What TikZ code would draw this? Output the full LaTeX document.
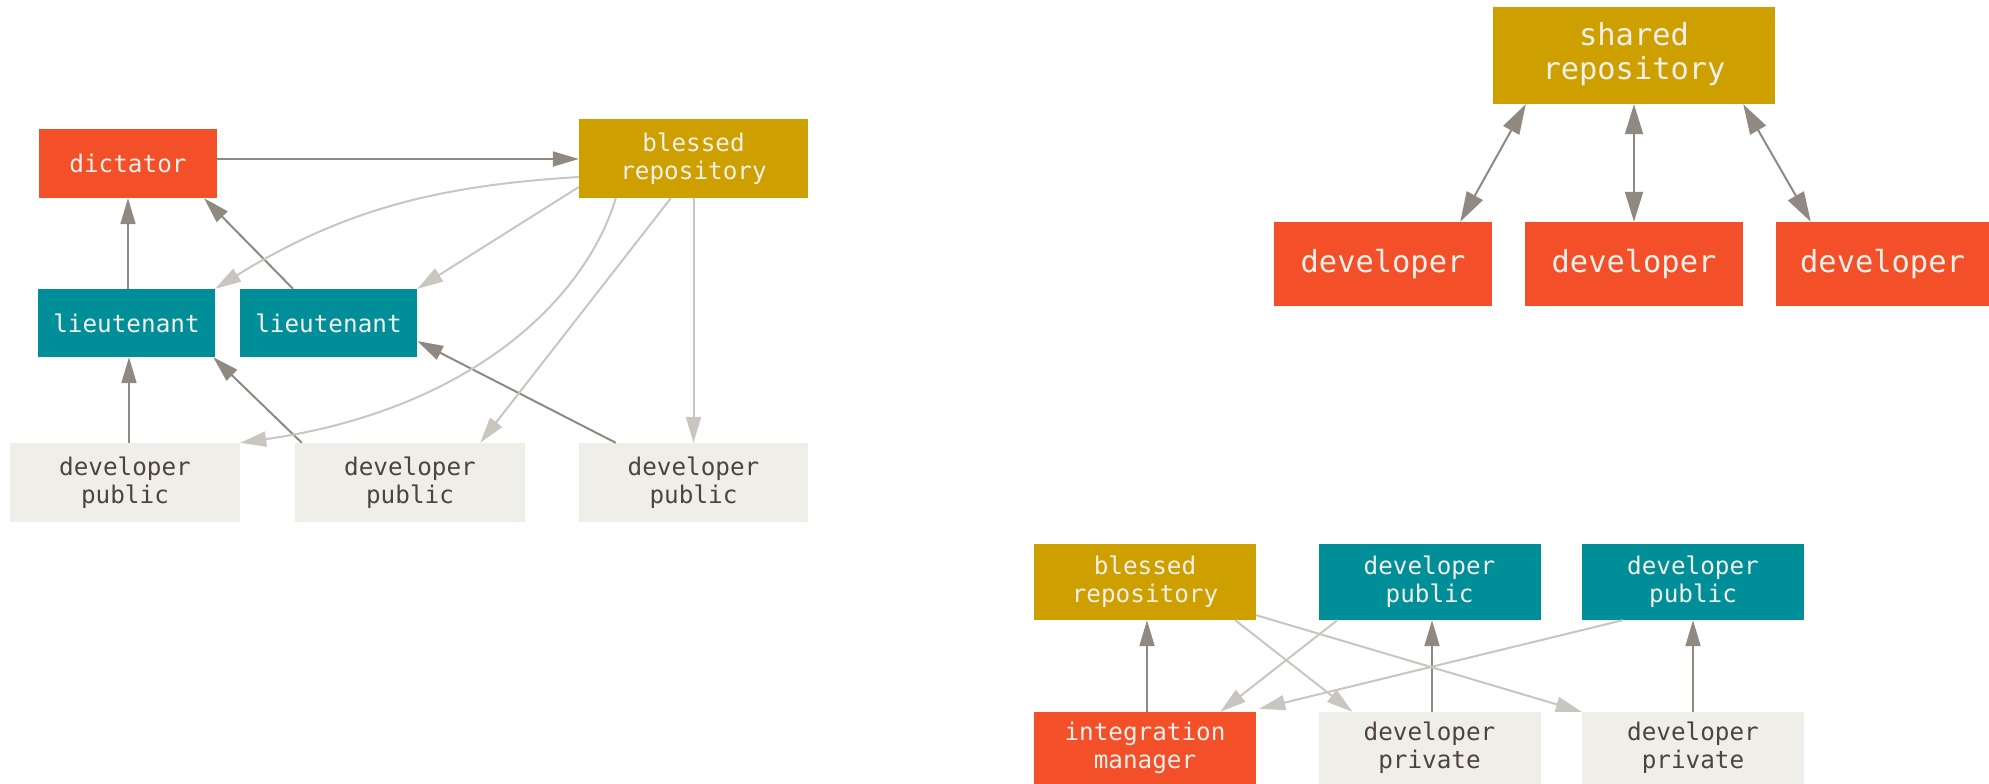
\documentclass[tikz,border=0pt]{standalone}
\usepackage{fontspec}
\setmonofont{DejaVu Sans Mono}
\usetikzlibrary{arrows.meta}

\definecolor{gitred}{HTML}{F34F29}
\definecolor{gitgold}{HTML}{CDA000}
\definecolor{gitteal}{HTML}{008F99}
\definecolor{gitpaper}{HTML}{EFEEE8}
\definecolor{gitink}{HTML}{4E443C}
\definecolor{gitwhite}{HTML}{F2F0EA}
\definecolor{darkline}{HTML}{8F8981}
\definecolor{lightline}{HTML}{C9C6C0}

\tikzset{
  box/.style={rectangle, inner sep=0pt, align=center, font=\ttfamily\fontsize{24.3}{28.3}\selectfont},
  bigbox/.style={box, font=\ttfamily\fontsize{30.4}{35}\selectfont},
  redbox/.style={fill=gitred, text=gitwhite},
  goldbox/.style={fill=gitgold, text=gitwhite},
  tealbox/.style={fill=gitteal, text=gitwhite},
  paperbox/.style={fill=gitpaper, text=gitink},
  push/.style={draw=darkline, line width=2pt, -{Triangle[length=26pt,width=15pt]}},
  pull/.style={draw=lightline, line width=2pt, -{Triangle[length=26pt,width=15pt]}},
  sync/.style={draw=darkline, line width=2pt, {Triangle[length=30pt,width=18pt]}-{Triangle[length=30pt,width=18pt]}}
}

\begin{document}
\begin{tikzpicture}[x=1pt, y=-1pt]
\useasboundingbox (0,0) rectangle (1989,784);

% ---- dictator and lieutenants workflow ----
\node[box, redbox,  minimum width=178pt, minimum height=69pt] (dict)   at (128,163.5) {dictator};
\node[box, goldbox, minimum width=229pt, minimum height=79pt] (bless)  at (693.5,158.5) {blessed\\repository};
\node[box, tealbox, minimum width=177pt, minimum height=68pt] (lt1)    at (126.5,323) {lieutenant};
\node[box, tealbox, minimum width=177pt, minimum height=68pt] (lt2)    at (328.5,323) {lieutenant};
\node[box, paperbox, minimum width=230pt, minimum height=79pt] (dp1)   at (125,482.5) {developer\\public};
\node[box, paperbox, minimum width=230pt, minimum height=79pt] (dp2)   at (410,482.5) {developer\\public};
\node[box, paperbox, minimum width=229pt, minimum height=79pt] (dp3)   at (693.5,482.5) {developer\\public};

\draw[push] ([yshift=4.5pt]dict.east) -- ([yshift=4.5pt]dict.east -| bless.west);
\draw[push] ([xshift=1.5pt]lt1.north) -- ([xshift=1.5pt]lt1.north |- dict.south);
\draw[push] ([xshift=-35.5pt]lt2.north) -- ([xshift=76pt]dict.south);
\draw[push] ([xshift=4pt]dp1.north) -- ([xshift=4pt]dp1.north |- lt1.south);
\draw[push] ([xshift=7pt]dp2.north west) -- ([xshift=-2pt]lt1.south east);
\draw[push] ([xshift=37pt]dp3.north west) -- ([yshift=-18pt]lt2.east);

\draw[pull] ([yshift=-18.5pt]bless.west) .. controls (450,185) and (350,205) .. (lt1.north east);
\draw[pull] ([yshift=-28.5pt]bless.west) -- (lt2.north east);
\draw[pull] ([xshift=37pt]bless.south west) .. controls (585,300) and (470,410) .. (dp1.north east);
\draw[pull] ([xshift=92pt]bless.south west) -- ([xshift=-45pt]dp2.north east);
\draw[pull] (bless.south) -- (dp3.north);

% ---- centralized workflow ----
\node[bigbox, goldbox, minimum width=282pt, minimum height=97pt] (shared) at (1634,55.5) {\raisebox{-2pt}{\begin{tabular}{@{}c@{}}shared\\repository\end{tabular}}};
\node[bigbox, redbox, minimum width=218pt, minimum height=84pt] (dv1) at (1383,264) {developer};
\node[bigbox, redbox, minimum width=218pt, minimum height=84pt] (dv2) at (1634,264) {developer};
\node[bigbox, redbox, minimum width=213pt, minimum height=84pt] (dv3) at (1882.5,264) {developer};

\draw[sync] ([xshift=33pt]shared.south west) -- ([xshift=-32pt]dv1.north east);
\draw[sync] (shared.south) -- (dv2.north);
\draw[sync] ([xshift=-32pt]shared.south east) -- ([xshift=35pt]dv3.north west);

% ---- integration-manager workflow ----
\node[box, goldbox, minimum width=222pt, minimum height=76pt] (bl2) at (1145,582) {blessed\\repository};
\node[box, tealbox, minimum width=222pt, minimum height=76pt] (pb1) at (1429.5,582) {developer\\public};
\node[box, tealbox, minimum width=222pt, minimum height=76pt] (pb2) at (1693,582) {developer\\public};
\node[box, redbox,   minimum width=222pt, minimum height=72pt] (im)  at (1145,748) {integration\\manager};
\node[box, paperbox, minimum width=222pt, minimum height=72pt] (pv1) at (1429.5,748) {developer\\private};
\node[box, paperbox, minimum width=222pt, minimum height=72pt] (pv2) at (1693,748) {developer\\private};

\draw[push] ([xshift=2pt]im.north) -- ([xshift=2pt]im.north |- bl2.south);
\draw[push] ([xshift=2.5pt]pv1.north) -- ([xshift=2.5pt]pv1.north |- pb1.south);
\draw[push] (pv2.north) -- (pb2.south);

\draw[pull] ([xshift=-21pt]bl2.south east) -- ([xshift=34pt]pv1.north west);
\draw[pull] ([yshift=5pt]bl2.south east) -- (pv2.north west);
\draw[pull] ([xshift=19pt]pb1.south west) -- ([xshift=-36pt]im.north east);
\draw[pull] ([xshift=41pt]pb2.south west) -- ([xshift=3pt,yshift=3pt]im.north east);
\end{tikzpicture}
\end{document}
